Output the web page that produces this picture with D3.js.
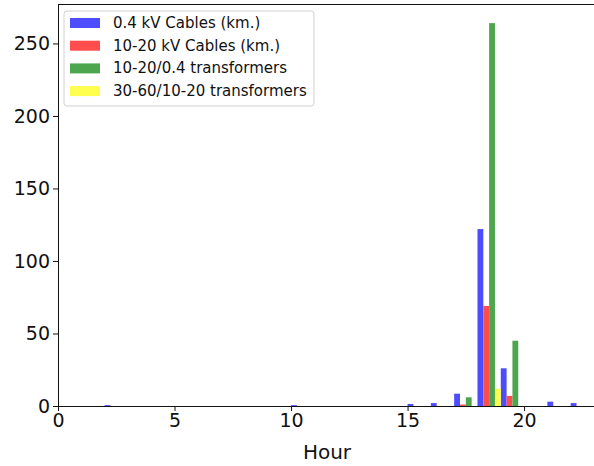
<!DOCTYPE html>
<html>
<head>
<meta charset="utf-8">
<script src="https://cdn.jsdelivr.net/npm/d3@7"></script>
<style>
  html, body { margin: 0; padding: 0; background: #fff; }
  svg { display: block; font-family: "DejaVu Sans", sans-serif; }
</style>
</head>
<body>
<div id="chart"></div>
<script>
// Hour bins, one group of four bars per hour
const hours = d3.range(0, 23);

const seriesNames = [
    "0.4 kV Cables (km.)",
    "10-20 kV Cables (km.)",
    "10-20/0.4 transformers",
    "30-60/10-20 transformers"
];
const seriesColors = ["#4d4dff", "#ff4d4d", "#4da64d", "#ffff4d"];

// values per hour (index = hour 0..22)
const cables04 =   [0, 0, 0.6, 0, 0, 0, 0, 0, 0, 0, 0.6, 0, 0, 0, 0, 1.4, 2, 8.5, 122, 26, 0, 3, 2];
const cables1020 = [0, 0, 0, 0, 0, 0, 0, 0, 0, 0, 0, 0, 0, 0, 0, 0, 0, 1, 69, 7, 0, 0, 0];
const trafo04 =    [0, 0, 0, 0, 0, 0, 0, 0, 0, 0, 0, 0, 0, 0, 0, 0, 0, 6, 264, 45, 0, 0, 0];
const trafo3060 =  [0, 0, 0, 0, 0, 0, 0, 0, 0, 0, 0, 0, 0, 0, 0, 0, 0, 0, 12, 0, 0, 0, 0];

const xTicks = [0, 5, 10, 15, 20];
const yTicks = [0, 50, 100, 150, 200, 250];

const allSeries = [cables04, cables1020, trafo04, trafo3060];

const width = 594, height = 466;
const margin = { left: 58, right: 0, top: 4, bottom: 60 };

const svg = d3.select('#chart')
    .append('svg')
    .attr('width', width)
    .attr('height', height);

const x = d3.scaleLinear()
    .domain([0, 23])
    .range([margin.left, width - margin.right]);

const yMax = d3.max(allSeries.flat()) * 1.05;
const y = d3.scaleLinear()
    .domain([0, yMax])
    .range([height - margin.bottom, margin.top]);

const barW = 1 / allSeries.length;

// bars
allSeries.forEach((vals, si) => {
    svg.append('g')
        .selectAll('rect')
        .data(hours.filter(h => vals[h] > 0))
        .enter()
        .append('rect')
        .attr('x', h => x(h + si * barW))
        .attr('width', x(barW) - x(0))
        .attr('y', h => y(vals[h]))
        .attr('height', h => y(0) - y(vals[h]))
        .attr('fill', seriesColors[si]);
});

// axes
const xAxis = svg.append('g')
    .attr('transform', `translate(0, ${y(0)})`)
    .call(d3.axisBottom(x).tickValues(xTicks).tickSize(5).tickPadding(3).tickSizeOuter(0));

const yAxis = svg.append('g')
    .attr('transform', `translate(${x(0)}, 0)`)
    .call(d3.axisLeft(y).tickValues(yTicks).tickSize(5).tickPadding(3).tickSizeOuter(0));

[xAxis, yAxis].forEach(a => {
    a.selectAll('text')
        .style('font-size', '19px')
        .style('font-family', '"DejaVu Sans", sans-serif')
        .attr('fill', '#111');
    a.selectAll('line').attr('stroke', '#111');
    a.select('.domain').attr('stroke', '#111');
});

// top spine
svg.append('line')
    .attr('x1', x(0)).attr('x2', width)
    .attr('y1', y(yMax) + 0.5).attr('y2', y(yMax) + 0.5)
    .attr('stroke', '#111');

// x label
svg.append('text')
    .attr('x', (x(0) + width) / 2 + 1)
    .attr('y', 459)
    .attr('text-anchor', 'middle')
    .style('font-size', '20px')
    .attr('fill', '#111')
    .text('Hour');

// legend
const legend = svg.append('g')
    .attr('transform', 'translate(64, 11)');

legend.append('rect')
    .attr('width', 250)
    .attr('height', 95)
    .attr('rx', 3)
    .attr('fill', '#fff')
    .attr('fill-opacity', 0.8)
    .attr('stroke', '#d0d0d0');

const item = legend.selectAll('.item')
    .data(seriesNames)
    .enter()
    .append('g')
    .attr('class', 'item')
    .attr('transform', (d, i) => `translate(6, ${12 + i * 22.7})`);

item.append('rect')
    .attr('y', -5)
    .attr('width', 30)
    .attr('height', 10)
    .attr('fill', (d, i) => seriesColors[i]);

item.append('text')
    .attr('x', 43)
    .attr('y', 5)
    .style('font-size', '15px')
    .attr('fill', '#111')
    .text(d => d);
</script>
</body>
</html>
